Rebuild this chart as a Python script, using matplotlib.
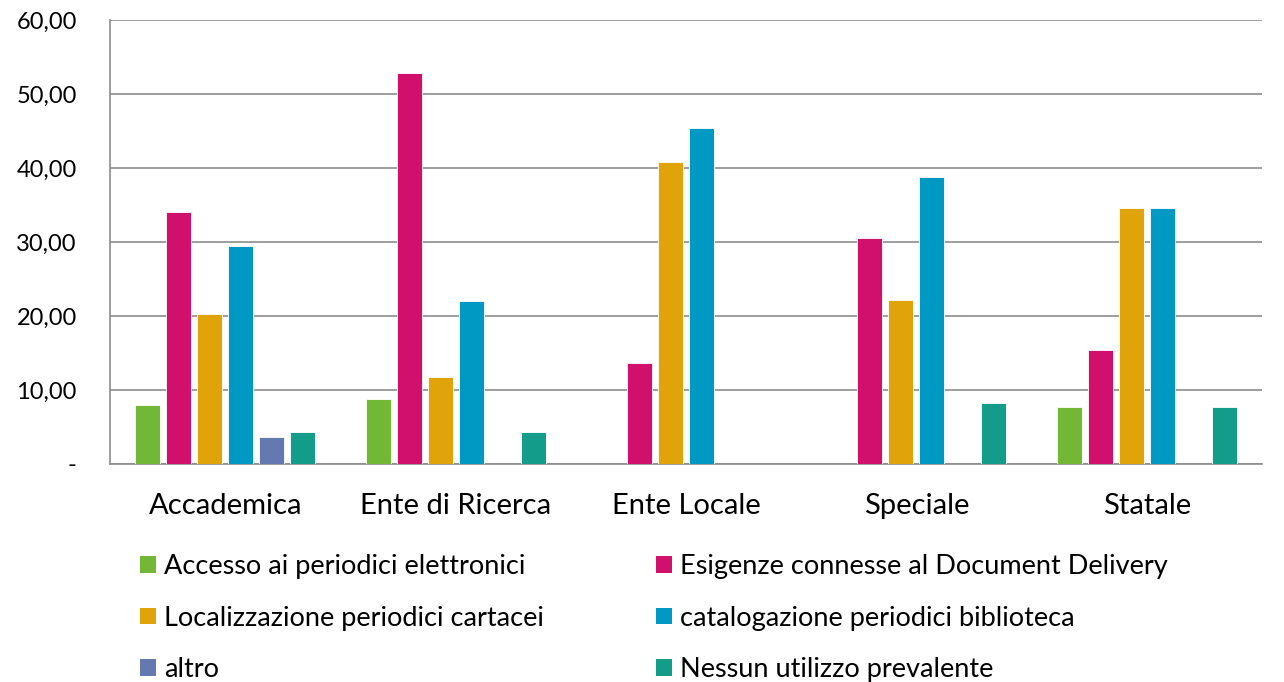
import matplotlib.pyplot as plt
import numpy as np
from matplotlib.patches import Patch
from matplotlib.ticker import FixedLocator, FuncFormatter

FONTNAME = "Lato"

categories = ["Accademica", "Ente di Ricerca", "Ente Locale", "Speciale", "Statale"]

series_names = [
    "Accesso ai periodici elettronici",
    "Esigenze connesse al Document Delivery",
    "Localizzazione periodici cartacei",
    "catalogazione periodici biblioteca",
    "altro",
    "Nessun utilizzo prevalente",
]

accesso = [8.0, 8.8, 0.0, 0.0, 7.7]
esigenze = [34.1, 52.8, 13.6, 30.6, 15.4]
localizzazione = [20.3, 11.8, 40.8, 22.2, 34.6]
catalogazione = [29.5, 22.0, 45.4, 38.8, 34.6]
altro = [3.6, 0.0, 0.0, 0.0, 0.0]
nessuno = [4.3, 4.3, 0.0, 8.3, 7.7]

series_values = [accesso, esigenze, localizzazione, catalogazione, altro, nessuno]
colors = ["#72B836", "#D0106C", "#E1A30A", "#0099C4", "#6479B0", "#149C8A"]

yticks = [0, 10, 20, 30, 40, 50, 60]

plt.rcParams["font.family"] = [FONTNAME, "DejaVu Sans"]

fig = plt.figure(figsize=(12.84, 6.82), dpi=100)
ax = fig.add_axes([110 / 1284, 1 - 464 / 682, 1152 / 1284, 444 / 682])

x = np.arange(len(categories))
step = 0.1345
width = 0.108
for i, (vals, col) in enumerate(zip(series_values, colors)):
    offset = (i - 2.5) * step
    ax.bar(x + offset, vals, width=width, color=col, edgecolor="white",
           linewidth=0.6, zorder=3, label=series_names[i])

ax.set_xlim(-0.5, len(categories) - 0.5)
ax.set_ylim(0, 60)
ax.yaxis.set_major_locator(FixedLocator(yticks))
ax.yaxis.set_major_formatter(FuncFormatter(
    lambda v, p: "-" if v == 0 else f"{v:.2f}".replace(".", ",")))
ax.set_xticks(x)
ax.set_xticklabels(categories)
ax.tick_params(axis="x", length=0, pad=21, labelsize=21)
ax.tick_params(axis="y", length=0, pad=24, labelsize=17)
ax.grid(axis="y", color="#8c8c8c", linewidth=1.2, zorder=0)

for side in ["top", "right"]:
    ax.spines[side].set_visible(False)
for side in ["left", "bottom"]:
    ax.spines[side].set_color("#8c8c8c")
    ax.spines[side].set_linewidth(1.2)

handles = [Patch(facecolor=c, edgecolor="none") for c in colors]
legend_args = dict(loc="upper left", frameon=False, fontsize=19.5, borderpad=0,
                   handlelength=0.58, handleheight=0.58, handletextpad=0.3,
                   labelspacing=0.98, borderaxespad=0)
fig.legend([handles[i] for i in (0, 2, 4)],
           [series_names[i] for i in (0, 2, 4)],
           bbox_to_anchor=(140 / 1284, 1 - 554 / 682), **legend_args)
fig.legend([handles[i] for i in (1, 3, 5)],
           [series_names[i] for i in (1, 3, 5)],
           bbox_to_anchor=(656 / 1284, 1 - 554 / 682), **legend_args)

fig.savefig("out.png", dpi=100)
